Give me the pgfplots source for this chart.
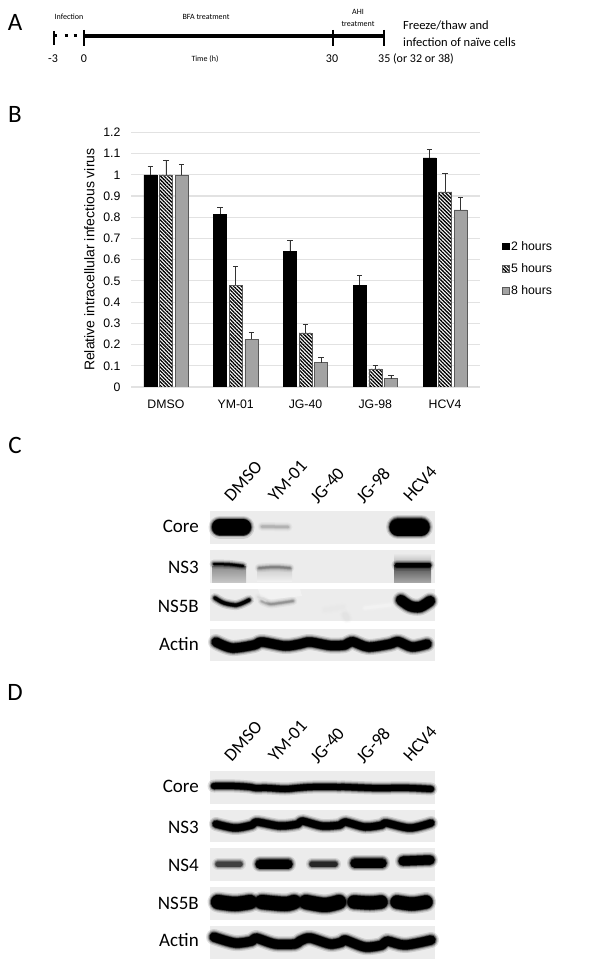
\documentclass[border=0pt]{standalone}
\usepackage{pgfplots}
\pgfplotsset{compat=1.18}
\usepackage{fontspec}
\setmainfont{Liberation Sans}
\newfontfamily\calib{Carlito}
\usetikzlibrary{patterns.meta}

\definecolor{blotbg}{HTML}{ECECEC}
\definecolor{bargray}{HTML}{A3A3A3}
\definecolor{baredge}{HTML}{595959}
\definecolor{gridc}{HTML}{E2E2E2}

% band with soft edges: width #2, colour in the optional argument
\newcommand\band[3][black]{%
  \addplot[#1,opacity=.12,line width=#2pt+7pt,line cap=round,line join=round,smooth] coordinates {#3};
  \addplot[#1,opacity=.2,line width=#2pt+4.5pt,line cap=round,line join=round,smooth] coordinates {#3};
  \addplot[#1,opacity=.35,line width=#2pt+2.5pt,line cap=round,line join=round,smooth] coordinates {#3};
  \addplot[#1,opacity=.6,line width=#2pt+1pt,line cap=round,line join=round,smooth] coordinates {#3};
  \addplot[#1,line width=#2pt,line cap=round,line join=round,smooth] coordinates {#3};
}
\newcommand\blot[2]{\addplot[draw=none,fill=blotbg] coordinates {(210,#1) (435,#1) (435,#2) (210,#2)} --cycle;}
\newcommand\lane[3]{\node[font=\calib\fontsize{18}{18}\selectfont,rotate=48,anchor=south west,inner sep=0pt] at (axis cs:#1,#2) {#3};}
\newcommand\protein[2]{\node[font=\calib\fontsize{19}{19}\selectfont,anchor=east,inner sep=0pt] at (axis cs:199,#1) {#2};}

\begin{document}
\begin{tikzpicture}[x=1pt,y=1pt]
\path[use as bounding box] (0,0) rectangle (607,968);

% whole page in pixel coordinates, for panels A, C and D
\begin{axis}[at={(0,0)},anchor=south west,width=607pt,height=968pt,scale only axis,
  xmin=0,xmax=607,ymin=0,ymax=968,y dir=reverse,hide axis,clip=false]

% panel A
\addplot[black,line width=3.3pt] coordinates {(84,36) (384,36)};
\addplot[black,line width=1.3pt] coordinates {(54,31) (54,45)};
\addplot[black,line width=1.3pt] coordinates {(84,30) (84,46)};
\addplot[black,line width=1.3pt] coordinates {(333,30) (333,46)};
\addplot[black,line width=1.3pt] coordinates {(384,30) (384,46)};
\addplot[black,line width=3pt] coordinates {(54,36) (56.5,36)};
\addplot[black,line width=3pt] coordinates {(64.5,36) (68,36)};
\addplot[black,line width=3pt] coordinates {(73.5,36) (77,36)};

\node[font=\calib\fontsize{25}{25}\selectfont] at (axis cs:15,22) {A};
\node[font=\calib\fontsize{25}{25}\selectfont] at (axis cs:15,114) {B};
\node[font=\calib\fontsize{25}{25}\selectfont] at (axis cs:15,445) {C};
\node[font=\calib\fontsize{25}{25}\selectfont] at (axis cs:15,692) {D};

\node[font=\calib\fontsize{8}{8}\selectfont] at (axis cs:69,17) {Infection};
\node[font=\calib\fontsize{8}{8}\selectfont] at (axis cs:206,17) {BFA treatment};
\node[font=\calib\fontsize{8}{8}\selectfont] at (axis cs:358,12) {AHI};
\node[font=\calib\fontsize{8}{8}\selectfont] at (axis cs:358,24) {treatment};
\node[font=\calib\fontsize{8}{8}\selectfont] at (axis cs:205,59) {Time (h)};
\node[font=\calib\fontsize{12}{12}\selectfont] at (axis cs:53,59) {-3};
\node[font=\calib\fontsize{12}{12}\selectfont] at (axis cs:84,59) {0};
\node[font=\calib\fontsize{12}{12}\selectfont] at (axis cs:332,59) {30};
\node[font=\calib\fontsize{12}{12}\selectfont,anchor=west,inner sep=0pt] at (axis cs:378,59) {35 (or 32 or 38)};
\node[font=\calib\fontsize{12.5}{12.5}\selectfont,anchor=west,inner sep=0pt] at (axis cs:403,25) {Freeze/thaw and};
\node[font=\calib\fontsize{12.5}{12.5}\selectfont,anchor=west,inner sep=0pt] at (axis cs:403,42) {infection of na\"{\i}ve cells};

% panel C
\blot{511}{544} \blot{550}{583} \blot{589}{621} \blot{629}{661}
\band{16}{(220,527) (243,527)}
\band{17}{(398,527) (421,527)}
\band[gray!60]{2}{(262,526.5) (288,527)}
\addplot[draw=none,top color=gray!90,bottom color=gray!45] coordinates {(212,566) (246,566) (246,582) (212,582)} --cycle;
\addplot[draw=none,top color=gray!40,bottom color=gray!12] coordinates {(257,568) (292,568) (292,581) (257,581)} --cycle;
\addplot[draw=none,top color=black!70,bottom color=gray!70] coordinates {(394,565) (431,565) (431,582) (394,582)} --cycle;
\addplot[draw=none,top color=blotbg,bottom color=gray!55] coordinates {(394,553) (431,553) (431,563) (394,563)} --cycle;
\band{2}{(214,564) (230,564.5) (243,566)}
\band[gray]{1.5}{(259,568) (275,567) (290,568)}
\band{4}{(397,565) (413,565) (429,565)}
\addplot[draw=none,fill=white,opacity=.35] coordinates {(258,589) (300,589) (302,596) (262,600)} --cycle;
\band{3}{(215,598) (224,603) (237,605) (249,600)}
\band[gray!85]{1.5}{(262,601) (270,604) (280,603) (293,601)}
\band[gray!30]{.5}{(258,597) (266,601)}
\band{10}{(401,600) (410,606) (420,607) (430,601)}
\band[gray!18]{1.5}{(325,610) (343,607)}
\band[gray!22]{4}{(345,615) (347,618)}
\band[gray!10]{3}{(365,608) (390,605)}
\band{9}{(216,642) (232,648) (254,645) (262,642) (285,646) (300,644) (310,642) (330,645.5) (345,645) (352,641.5) (368,647) (390,644) (398,641.5) (412,647) (427,644)}

% panel D
\blot{771}{804} \blot{810}{842} \blot{848}{881} \blot{887}{920} \blot{926}{959}
\band{6}{(214,786) (235,786) (250,787) (255,788) (268,788) (285,789) (297,788) (312,787) (340,787) (345,787) (372,788) (388,788) (410,788) (431,789)}
\band{7}{(216,824) (235,828) (252,825) (257,822) (280,826) (298,824) (302,821) (322,826) (340,825) (345,822) (365,827) (382,825) (386,823) (410,828) (431,823)}
\band[black!75]{5}{(218,864) (240,864)}
\band{9}{(260,864) (288,864)}
\band[black!85]{5}{(312,864) (335,864)}
\band{9}{(355,863) (382,863)}
\band{9}{(403,861) (430,860)}
\band{14}{(218,902) (235,904) (250,902)}
\band{14}{(262,902) (285,904) (294,902)}
\band{14}{(306,902) (325,905) (339,902)}
\band{13}{(354,902) (370,903) (381,902)}
\band{13}{(397,902) (412,904) (426,902)}
\band{9}{(214,937) (235,943) (252,941) (256,938) (275,944) (295,944) (300,941) (310,938) (330,944) (342,942) (345,940) (365,947) (382,945) (387,941) (405,945) (431,940)}

% lane names and blot names
\lane{232}{503}{DMSO} \lane{276}{503}{YM-01} \lane{318}{505}{JG-40} \lane{364}{505}{JG-98} \lane{411}{503}{HCV4}
\lane{232}{763}{DMSO} \lane{276}{763}{YM-01} \lane{318}{765}{JG-40} \lane{364}{765}{JG-98} \lane{411}{763}{HCV4}
\protein{526}{Core} \protein{567}{NS3} \protein{606}{NS5B} \protein{644}{Actin}
\protein{786}{Core} \protein{827}{NS3} \protein{865}{NS4} \protein{903}{NS5B} \protein{940}{Actin}
\end{axis}

% panel B
\begin{axis}[at={(131pt,581pt)},anchor=south west,width=349pt,height=254.6pt,scale only axis,
  xmin=-0.5,xmax=4.5,ymin=0,ymax=1.2,
  ybar=2.6pt,bar width=13pt,
  xtick=data,xticklabels={DMSO,YM-01,JG-40,JG-98,HCV4},
  ytick={0,0.1,0.2,0.3,0.4,0.5,0.6,0.7,0.8,0.9,1,1.1,1.2},
  yticklabels={0,0.1,0.2,0.3,0.4,0.5,0.6,0.7,0.8,0.9,1,1.1,1.2},
  axis line style={draw=none},
  major tick length=0pt,
  ymajorgrids,grid style={gridc,line width=1.1pt},
  tick label style={font=\fontsize{12.3}{12}\selectfont},
  xticklabel style={yshift=-9pt},
  yticklabel style={xshift=-7pt},
  ylabel={Relative intracellular infectious virus},
  ylabel style={font=\fontsize{14}{15}\selectfont,yshift=2pt},
  legend style={at={(1.0625,0.465)},anchor=west,draw=none,fill=none,
    font=\fontsize{12.3}{12}\selectfont,row sep=7.8pt,inner sep=0pt},
  legend image code/.code={\fill[#1] (0cm,-3.3pt) rectangle (6.6pt,3.3pt);},
  error bars/y dir=plus,error bars/y explicit,
  error bars/error bar style={black!80,line width=.8pt},
  error bars/error mark options={black!80,rotate=90,mark size=2.7pt,line width=.8pt},
  ]
\addplot[draw=black,fill=black] coordinates {
 (0,1) +- (0,.04) (1,.815) +- (0,.033) (2,.64) +- (0,.05) (3,.48) +- (0,.045) (4,1.08) +- (0,.04)};
\addplot[draw=baredge,pattern={Lines[angle=-45,distance=2.6pt,line width=1.3pt]}] coordinates {
 (0,1) +- (0,.07) (1,.48) +- (0,.087) (2,.255) +- (0,.04) (3,.085) +- (0,.015) (4,.92) +- (0,.085)};
\addplot[draw=baredge,fill=bargray] coordinates {
 (0,1) +- (0,.05) (1,.225) +- (0,.032) (2,.115) +- (0,.025) (3,.04) +- (0,.015) (4,.835) +- (0,.06)};
\legend{2 hours,5 hours,8 hours}
\end{axis}
\end{tikzpicture}
\end{document}
